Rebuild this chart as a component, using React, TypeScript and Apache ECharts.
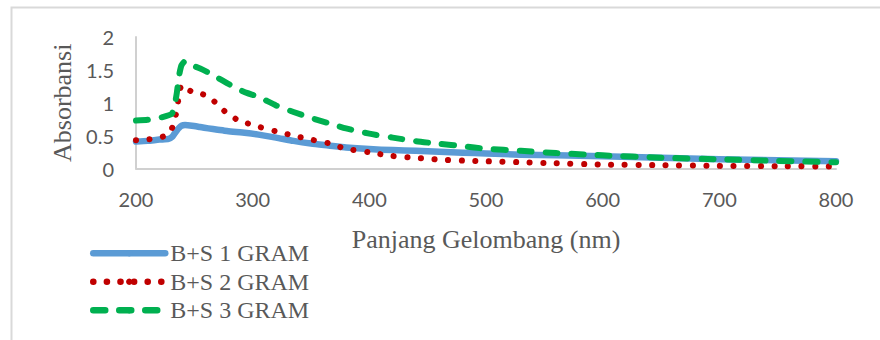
import React, { useEffect, useRef } from "react";
import * as echarts from "echarts";

const wavelengths = [200, 210, 220, 228, 231, 233, 235, 237, 239, 242, 248, 255, 262, 270, 278, 286, 295, 305, 320, 335, 350, 365, 380, 400, 420, 440, 460, 480, 500, 530, 560, 600, 650, 700, 750, 800];
const gram1 = [0.41, 0.42, 0.44, 0.45, 0.48, 0.53, 0.58, 0.62, 0.65, 0.66, 0.65, 0.63, 0.61, 0.59, 0.57, 0.555, 0.54, 0.515, 0.47, 0.42, 0.38, 0.35, 0.32, 0.295, 0.28, 0.27, 0.255, 0.24, 0.23, 0.21, 0.2, 0.185, 0.165, 0.14, 0.125, 0.11];
const gram2 = [0.43, 0.44, 0.47, 0.52, 0.62, 0.72, 0.9, 1.12, 1.27, 1.22, 1.17, 1.14, 1.1, 0.97, 0.84, 0.75, 0.69, 0.635, 0.565, 0.5, 0.44, 0.385, 0.3, 0.245, 0.19, 0.16, 0.135, 0.12, 0.11, 0.095, 0.08, 0.06, 0.05, 0.04, 0.035, 0.03];
const gram3 = [0.73, 0.74, 0.77, 0.81, 0.84, 0.95, 1.15, 1.42, 1.57, 1.63, 1.57, 1.52, 1.46, 1.38, 1.3, 1.22, 1.15, 1.09, 0.96, 0.86, 0.77, 0.69, 0.61, 0.53, 0.47, 0.415, 0.375, 0.34, 0.3, 0.27, 0.235, 0.2, 0.165, 0.14, 0.115, 0.095];
const seriesNames = ["B+S 1 GRAM", "B+S 2 GRAM", "B+S 3 GRAM"];
const xTitle = "Panjang Gelombang (nm)";
const yTitle = "Absorbansi";

const pair = (vals: number[]) => wavelengths.map((w, i) => [w, vals[i]]);

export default function App() {
  const ref = useRef<HTMLDivElement>(null);
  useEffect(() => {
    if (!ref.current) return;
    const chart = echarts.init(ref.current, undefined, { renderer: "svg" });
    const gray = "#595959";
    const serif = "'Liberation Serif', 'Times New Roman', serif";
    chart.setOption({
      animation: false,
      backgroundColor: "#ffffff",
      grid: { left: 136, right: 44, top: 37, bottom: 171.5 },
      graphic: [
        {
          type: "rect",
          shape: { x: 11.5, y: 7.5, width: 900, height: 400 },
          style: { fill: "none", stroke: "#d9d9d9", lineWidth: 2 },
          silent: true,
        },
      ],
      legend: {
        orient: "vertical",
        left: 85,
        top: 236,
        itemWidth: 72,
        itemHeight: 8,
        itemGap: 4,
        lineStyle: { width: 6.5 },
        textStyle: { fontFamily: serif, fontSize: 24, color: gray, lineHeight: 24.5 },
        data: seriesNames,
      },
      xAxis: {
        type: "value",
        min: 200,
        max: 800,
        interval: 100,
        name: xTitle,
        nameLocation: "middle",
        nameGap: 58,
        nameTextStyle: { fontFamily: serif, fontSize: 26, color: gray },
        axisLine: { show: true, lineStyle: { color: "#d0d0d0", width: 2 } },
        axisTick: { show: false },
        splitLine: { show: false },
        axisLabel: { fontFamily: "Lato", fontSize: 20, color: gray, margin: 20 },
      },
      yAxis: {
        type: "value",
        min: 0,
        max: 2,
        interval: 0.5,
        name: yTitle,
        nameLocation: "middle",
        nameGap: 61,
        nameTextStyle: { fontFamily: serif, fontSize: 26, color: gray, padding: [0, 0, 0, 0] },
        axisLine: { show: true, lineStyle: { color: "#d0d0d0", width: 2 } },
        axisTick: { show: false },
        splitLine: { show: false },
        axisLabel: { fontFamily: "Lato", fontSize: 20, color: gray, margin: 22 },
      },
      series: [
        {
          name: seriesNames[0],
          type: "line",
          data: pair(gram1),
          symbol: "none",
          smooth: 0.2,
          z: 3,
          lineStyle: { color: "#5B9BD5", width: 6.5, cap: "round", join: "round" },
          itemStyle: { color: "#5B9BD5" },
        },
        {
          name: seriesNames[1],
          type: "line",
          data: pair(gram2),
          symbol: "none",
          smooth: 0.2,
          z: 4,
          lineStyle: { color: "#C00000", width: 6, type: [0.1, 13.5], cap: "round", join: "round" },
          itemStyle: { color: "#C00000" },
        },
        {
          name: seriesNames[2],
          type: "line",
          data: pair(gram3),
          symbol: "none",
          smooth: 0.2,
          z: 5,
          lineStyle: { color: "#00B050", width: 6, type: [12, 14], cap: "round", join: "round" },
          itemStyle: { color: "#00B050" },
        },
      ],
    });
    return () => chart.dispose();
  }, []);
  return <div ref={ref} style={{ position: "fixed", left: 0, top: 0, width: 880, height: 340 }} />;
}
